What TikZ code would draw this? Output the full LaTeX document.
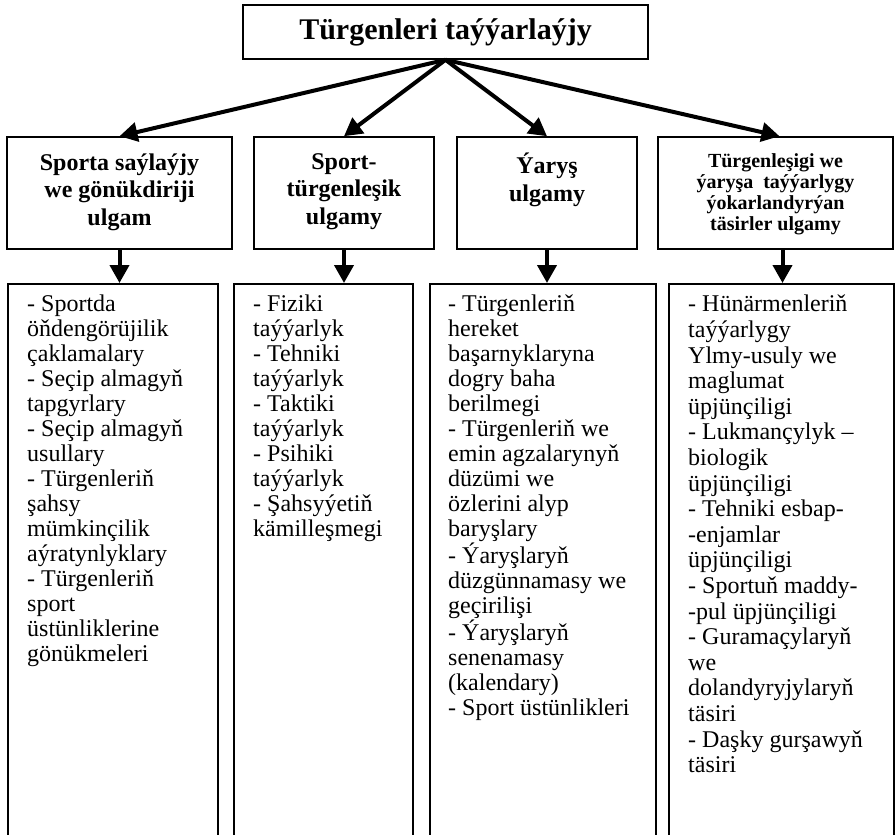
\documentclass[tikz,border=0pt]{standalone}
\usepackage{fontspec}
\setmainfont{Liberation Serif}
\usetikzlibrary{arrows.meta,positioning}

\begin{document}
\begin{tikzpicture}[x=1pt,y=1pt]
\tikzstyle{kutu}=[rectangle,draw,line width=1.6pt,inner sep=0pt]
\tikzstyle{bas_kutu}=[kutu,minimum width=405pt,minimum height=54pt,font=\fontsize{30}{32}\selectfont\bfseries]
\tikzstyle{ulgam_yazgy}=[align=center,inner sep=0pt,font=\fontsize{24}{27.5}\selectfont\bfseries,execute at begin node={\rule{0pt}{20pt}}]
\tikzstyle{kici_yazgy}=[ulgam_yazgy,font=\fontsize{20}{21}\selectfont\bfseries]
\tikzstyle{sanaw_yazgy}=[align=left,inner sep=0pt,font=\fontsize{24}{25}\selectfont,execute at begin node={\rule{0pt}{20pt}}]
\tikzstyle{ok}=[-{Triangle[length=18pt,width=19pt]},line width=4pt]

\path[use as bounding box,clip] (0,0) rectangle (895,-835);

\node[bas_kutu] (bas) at (445.5,-32){Türgenleri taýýarlaýjy};

\node[kutu,minimum width=225pt,minimum height=112pt] (ulgam1) at (119.5,-193){};
\node[kutu,minimum width=180pt,minimum height=112pt] (ulgam2) at (344,-193){};
\node[kutu,minimum width=180pt,minimum height=112pt] (ulgam3) at (547,-193){};
\node[kutu,minimum width=235pt,minimum height=112pt] (ulgam4) at (775.5,-193){};

\node[ulgam_yazgy,below=17pt of ulgam1.north] (ulgam1_yazgy){Sporta saýlaýjy\\we gönükdiriji\\ulgam};
\node[ulgam_yazgy,below=17pt of ulgam2.north] (ulgam2_yazgy){Sport-\\türgenleşik\\ulgamy};
\node[ulgam_yazgy,below=17pt of ulgam3.north] (ulgam3_yazgy){Ýaryş\\ulgamy};
\node[kici_yazgy,below=17pt of ulgam4.north] (ulgam4_yazgy){Türgenleşigi we\\ýaryşa\ \ taýýarlygy\\ýokarlandyrýan\\täsirler ulgamy};

\node[kutu,anchor=north west,minimum width=210pt,minimum height=600pt] (sanaw1) at (7,-283){};
\node[kutu,anchor=north west,minimum width=179pt,minimum height=600pt] (sanaw2) at (233,-283){};
\node[kutu,anchor=north west,minimum width=226pt,minimum height=600pt] (sanaw3) at (429,-283){};
\node[kutu,anchor=north west,minimum width=225pt,minimum height=600pt] (sanaw4) at (668,-283){};

\node[sanaw_yazgy,below right=12pt and 20pt of sanaw1.north west] (sanaw1_yazgy){- Sportda\\öňdengörüjilik\\çaklamalary\\- Seçip almagyň\\tapgyrlary\\- Seçip almagyň\\usullary\\- Türgenleriň\\şahsy\\mümkinçilik\\aýratynlyklary\\- Türgenleriň\\sport\\üstünliklerine\\gönükmeleri};
\node[sanaw_yazgy,below right=12pt and 20pt of sanaw2.north west] (sanaw2_yazgy){- Fiziki\\taýýarlyk\\- Tehniki\\taýýarlyk\\- Taktiki\\taýýarlyk\\- Psihiki\\taýýarlyk\\- Şahsyýetiň\\kämilleşmegi};
\node[sanaw_yazgy,below right=12pt and 19pt of sanaw3.north west] (sanaw3_yazgy){- Türgenleriň\\hereket\\başarnyklaryna\\dogry baha\\berilmegi\\- Türgenleriň we\\emin agzalarynyň\\düzümi we\\özlerini alyp\\baryşlary\\- Ýaryşlaryň\\düzgünnamasy we\\geçirilişi\\- Ýaryşlaryň\\senenamasy\\(kalendary)\\- Sport üstünlikleri};
\node[sanaw_yazgy,font=\fontsize{24}{25.6}\selectfont,below right=12pt and 20pt of sanaw4.north west] (sanaw4_yazgy){- Hünärmenleriň\\taýýarlygy\\Ylmy-usuly we\\maglumat\\üpjünçiligi\\- Lukmançylyk –\\biologik\\üpjünçiligi\\- Tehniki esbap-\\-enjamlar\\üpjünçiligi\\- Sportuň maddy-\\-pul üpjünçiligi\\- Guramaçylaryň\\we\\dolandyryjylaryň\\täsiri\\- Daşky gurşawyň\\täsiri};

\draw[ok] (bas.south) -- (ulgam1.north);
\draw[ok] (bas.south) -- (ulgam2.north);
\draw[ok] (bas.south) -- (ulgam3.north);
\draw[ok] (bas.south) -- ([xshift=4pt]ulgam4.north);

\draw[ok] (ulgam1.south) -- (ulgam1.south |- sanaw1.north);
\draw[ok] (ulgam2.south) -- (ulgam2.south |- sanaw2.north);
\draw[ok] (ulgam3.south) -- (ulgam3.south |- sanaw3.north);
\draw[ok] ([xshift=7pt]ulgam4.south) -- ([xshift=7pt]ulgam4.south |- sanaw4.north);

\end{tikzpicture}
\end{document}
